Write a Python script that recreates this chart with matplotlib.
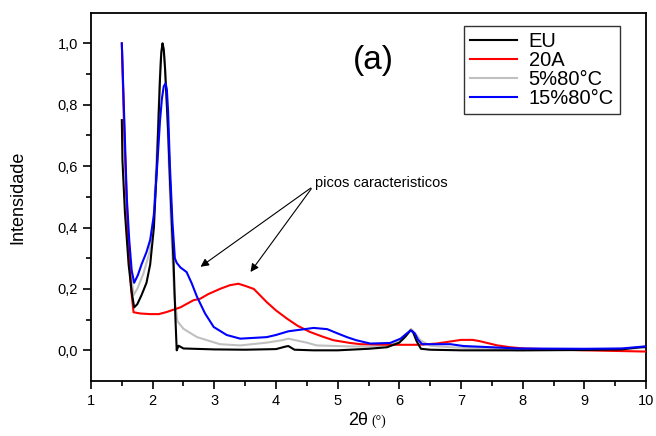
import matplotlib.pyplot as plt

plt.rcParams['font.family'] = ['Liberation Sans', 'DejaVu Sans']

# EU
x_eu = [1.50, 1.51, 1.55, 1.61, 1.66, 1.70, 1.75, 1.82, 1.90, 1.96, 2.02, 2.07, 2.10, 2.12, 2.14,
        2.16, 2.18, 2.20, 2.23, 2.25, 2.28, 2.31, 2.34, 2.37, 2.39, 2.42, 2.5, 3.0, 3.5, 4.0,
        4.15, 4.2, 4.3, 4.6, 5.0, 5.5, 5.8, 6.0, 6.1, 6.18, 6.22, 6.28, 6.35, 6.5, 7, 8, 9, 9.6,
        10]
y_eu = [0.75, 0.62, 0.45, 0.28, 0.19, 0.14, 0.15, 0.18, 0.22, 0.28, 0.40, 0.61, 0.78, 0.89, 0.97,
        1.0, 0.98, 0.92, 0.80, 0.72, 0.56, 0.42, 0.28, 0.10, 0.0, 0.015, 0.006, 0.003, 0.002,
        0.004, 0.012, 0.014, 0.002, 0.0, 0.0, 0.005, 0.01, 0.025, 0.045, 0.065, 0.06, 0.03,
        0.005, 0.002, 0.0, 0.0, 0.001, 0.003, 0.012]

# 20A
x_20a = [1.50, 1.55, 1.60, 1.65, 1.69, 1.8, 1.96, 2.1, 2.23, 2.45, 2.66, 2.77, 2.9, 3.09, 3.25,
         3.39, 3.5, 3.64, 3.85, 4.0, 4.18, 4.35, 4.55, 4.75, 4.93, 5.2, 5.37, 5.9, 6.3, 6.6, 6.8,
         7.0, 7.19, 7.3, 7.59, 7.8, 8.02, 9, 10]
y_20a = [1.0, 0.65, 0.38, 0.2, 0.124, 0.12, 0.118, 0.118, 0.125, 0.14, 0.163, 0.168, 0.183, 0.2,
         0.212, 0.217, 0.21, 0.2, 0.157, 0.13, 0.103, 0.08, 0.06, 0.045, 0.033, 0.024, 0.02,
         0.018, 0.018, 0.022, 0.028, 0.034, 0.034, 0.03, 0.016, 0.01, 0.006, 0.0, -0.004]

# 5%80°C
x_5 = [1.50, 1.53, 1.57, 1.62, 1.69, 1.75, 1.85, 1.95, 2.02, 2.08, 2.11, 2.13, 2.16, 2.18, 2.20,
       2.23, 2.26, 2.30, 2.35, 2.40, 2.5, 2.72, 3.09, 3.42, 3.85, 4.1, 4.2, 4.5, 4.66, 5.15, 5.5,
       5.85, 6.05, 6.19, 6.26, 6.34, 6.5, 6.83, 7.5, 7.91, 9, 10]
y_5 = [1.0, 0.75, 0.5, 0.3, 0.18, 0.2, 0.25, 0.32, 0.45, 0.7, 0.86, 0.95, 1.0, 0.98, 0.93, 0.8,
       0.62, 0.4, 0.18, 0.095, 0.07, 0.043, 0.02, 0.016, 0.025, 0.033, 0.038, 0.025, 0.016,
       0.013, 0.012, 0.017, 0.035, 0.07, 0.055, 0.033, 0.015, 0.01, 0.005, 0.0, 0.002, 0.008]

# 15%80°C
x_15 = [1.50, 1.54, 1.58, 1.62, 1.66, 1.70, 1.76, 1.82, 1.90, 1.96, 2.02, 2.07, 2.12, 2.15, 2.18,
        2.21, 2.23, 2.25, 2.28, 2.32, 2.36, 2.39, 2.45, 2.55, 2.63, 2.72, 2.85, 2.99, 3.2, 3.42,
        3.85, 4.0, 4.2, 4.5, 4.61, 4.83, 5.0, 5.15, 5.3, 5.53, 5.85, 6.02, 6.12, 6.19, 6.25, 6.3,
        6.37, 6.6, 6.83, 7.04, 7.5, 7.91, 9.0, 9.6, 10]
y_15 = [1.0, 0.75, 0.5, 0.36, 0.26, 0.22, 0.245, 0.28, 0.32, 0.36, 0.44, 0.59, 0.75, 0.82, 0.86,
        0.87, 0.85, 0.78, 0.6, 0.42, 0.30, 0.285, 0.27, 0.255, 0.22, 0.174, 0.12, 0.076, 0.05,
        0.038, 0.043, 0.05, 0.062, 0.07, 0.073, 0.069, 0.055, 0.043, 0.033, 0.022, 0.024, 0.038,
        0.055, 0.065, 0.055, 0.035, 0.02, 0.02, 0.02, 0.014, 0.01, 0.006, 0.005, 0.006, 0.013]

fig = plt.figure(figsize=(6.56, 4.36), dpi=100)
ax = fig.add_axes([0.1387, 0.1261, 0.8461, 0.8448])

ax.plot(x_5, y_5, color='#c0c0c0', lw=1.5, label='5%80°C', zorder=2)
ax.plot(x_20a, y_20a, color='red', lw=1.5, label='20A', zorder=3)
ax.plot(x_eu, y_eu, color='black', lw=1.5, label='EU', zorder=4)
ax.plot(x_15, y_15, color='blue', lw=1.5, label='15%80°C', zorder=5)

ax.set_xlim(1, 10)
ax.set_ylim(-0.1, 1.1)
ax.set_xticks(range(1, 11))
ax.set_xticks([i + 0.5 for i in range(1, 10)], minor=True)
yt = [0.0, 0.2, 0.4, 0.6, 0.8, 1.0]
ax.set_yticks(yt)
ax.set_yticklabels([f'{v:.1f}'.replace('.', ',') for v in yt])
ax.set_yticks([0.1, 0.3, 0.5, 0.7, 0.9], minor=True)
ax.tick_params(which='major', length=6, width=1.2, labelsize=10.5, direction='out')
ax.tick_params(which='minor', length=3.5, width=1.2, direction='out')
for s in ax.spines.values():
    s.set_linewidth(1.3)

ax.set_ylabel('Intensidade', fontsize=13, labelpad=22)
fig.text(0.561, 0.017, '2θ', fontsize=13, ha='right', va='bottom')
fig.text(0.566, 0.019, '(°)', fontsize=10, family='Liberation Serif', ha='left', va='bottom')

ax.text(5.58, 0.945, '(a)', fontsize=24, ha='center', va='center')

ax.annotate('', xy=(2.74, 0.267), xytext=(4.60, 0.534),
            arrowprops=dict(arrowstyle='-|>', color='black', lw=0.8, mutation_scale=12))
ax.annotate('', xy=(3.56, 0.248), xytext=(4.60, 0.534),
            arrowprops=dict(arrowstyle='-|>', color='black', lw=0.8, mutation_scale=12))
ax.text(4.63, 0.545, 'picos caracteristicos', fontsize=10.5, ha='left', va='center')

handles, labels = ax.get_legend_handles_labels()
order = [2, 1, 0, 3]
leg = ax.legend([handles[i] for i in order], [labels[i] for i in order],
                loc='upper right', bbox_to_anchor=(0.953, 0.965), fontsize=14.5,
                frameon=True, fancybox=False, edgecolor='black', handlelength=2.3,
                handletextpad=0.6, borderpad=0.3, labelspacing=0.0, borderaxespad=0)
leg.get_frame().set_linewidth(1.0)

plt.savefig('out.png', dpi=100)
